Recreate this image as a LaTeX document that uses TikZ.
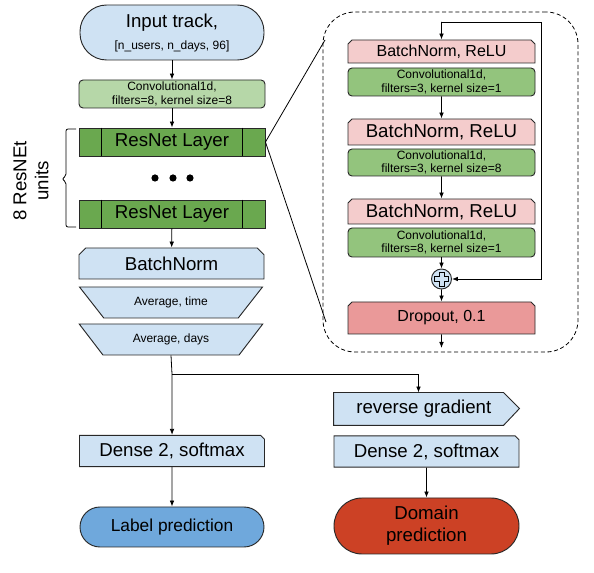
\documentclass[tikz,border=0pt]{standalone}
\usepackage{fontspec}
\setmainfont{Liberation Sans}
\usetikzlibrary{shapes.geometric, shapes.misc, arrows.meta, calc, backgrounds}
\definecolor{colIn}{RGB}{207,226,243}
\definecolor{colConvA}{RGB}{182,215,168}
\definecolor{colConvB}{RGB}{147,196,125}
\definecolor{colRes}{RGB}{106,168,79}
\definecolor{colNorm}{RGB}{244,204,204}
\definecolor{colDrop}{RGB}{234,153,153}
\definecolor{colLabel}{RGB}{111,168,220}
\definecolor{colDomain}{RGB}{204,65,37}
\definecolor{colBorder}{RGB}{40,40,40}
\tikzset{
  box/.style={
    rectangle, draw=colBorder, line width=0.7pt,
    inner sep=0pt, align=center, text=black
  },
  bigTxt/.style={font=\fontsize{14}{16.5}\selectfont},
  midTxt/.style={font=\fontsize{12}{14}\selectfont},
  smallTxt/.style={font=\fontsize{9}{10}\selectfont},
  stadBox/.style={box, bigTxt, minimum width=138pt, rounded corners=#1},
  convBox/.style={box, smallTxt, rounded corners=3pt, fill=colConvB, minimum width=140.25pt},
  resBox/.style={box, bigTxt, fill=colRes, minimum width=139.5pt, minimum height=21pt},
  cutBox/.style={box, chamfered rectangle,
    chamfered rectangle xsep=#1, chamfered rectangle ysep=#1},
  normBox/.style={cutBox=1.5pt, chamfered rectangle corners={north west, north east},
    fill=colNorm, minimum width=140.25pt},
  avgBox/.style={box, smallTxt, trapezium, trapezium stretches=true,
    trapezium left angle=40, trapezium right angle=40, shape border rotate=180,
    fill=colIn, minimum width=138pt, minimum height=23.25pt},
  denseBox/.style={cutBox=1.5pt, chamfered rectangle corners=north east, bigTxt,
    fill=colIn, minimum width=138.75pt, minimum height=23.5pt},
  arr/.style={-{Latex[length=4.5pt, width=3.5pt]}, line width=0.6pt, color=black},
  wire/.style={line width=0.6pt, color=black}
}

\begin{document}
\begin{tikzpicture}[x=0.75pt, y=-0.75pt]
  \useasboundingbox (0,0) rectangle (594,573);

  % main column
  \node[stadBox=20pt, fill=colIn, minimum height=41.25pt] (input) at (172,32.5)
    {Input track,\\{\fontsize{9}{10}\selectfont [n\_users, n\_days, 96]}};
  \node[convBox, fill=colConvA, minimum width=139.5pt, minimum height=21pt] (conv0) at (172,94)
    {Convolutional1d,\\filters=8, kernel size=8};
  \node[resBox] (res1) at (172,142) {ResNet Layer};
  \node[resBox] (res2) at (172,214) {ResNet Layer};
  \foreach \r in {res1, res2} {
    \draw[wire] ($(\r.north west)+(23,0)$) -- ($(\r.south west)+(23,0)$);
    \draw[wire] ($(\r.north east)+(-23,0)$) -- ($(\r.south east)+(-23,0)$);
  }
  \foreach \x in {155,173,190}
    \fill (\x,178) circle (2.7pt);
  \draw[wire, rounded corners=1.5pt] (76,129) -- (66,129) -- (66,176) -- (62,179)
    -- (66,182) -- (66,227) -- (76,227);
  \node[bigTxt, rotate=90, align=center] (units) at (31,181) {8 ResNEt\\units};

  \node[cutBox=2.5pt, chamfered rectangle corners={north west, north east}, bigTxt,
    fill=colIn, minimum width=138.75pt, minimum height=23.25pt] (bnorm) at (171.5,263.5) {BatchNorm};
  \node[avgBox] (avgtime) at (171,302.5) {Average, time};
  \node[avgBox] (avgdays) at (171,339.5) {Average, days};

  % heads
  \node[denseBox] (denseL) at (172,451) {Dense 2, softmax};
  \node[stadBox=15pt, font=\fontsize{13}{15}\selectfont, fill=colLabel, minimum height=30pt] (labelpred) at (172,527)
    {Label prediction};
  \node[box, draw=none, bigTxt, minimum width=126.75pt, minimum height=24pt] (revgrad) at (418.5,409)
    {\hspace*{8pt}reverse gradient};
  \begin{scope}[on background layer]
    \draw[box, fill=colIn] (revgrad.north west) -- (revgrad.north east) -- ++(16,16)
      -- (revgrad.south east) -- (revgrad.south west) -- cycle;
  \end{scope}
  \node[denseBox] (denseR) at (426.5,451.5) {Dense 2, softmax};
  \node[stadBox=21pt, fill=colDomain, minimum width=138.75pt, minimum height=42pt] (domain) at (426.5,526)
    {Domain\\prediction};

  \coordinate (split) at (172,374);
  \draw[wire] (avgdays.south) -- (split);
  \draw[arr] (input) -- (conv0);
  \draw[arr] (conv0) -- (res1);
  \draw[arr] (res2) -- (bnorm);
  \draw[arr] (split) -- (denseL);
  \draw[arr] (split) -| (revgrad);
  \draw[arr] (denseL) -- (labelpred);
  \draw[arr] (denseR) -- (domain);

  % zoomed ResNet unit
  \node[draw, line width=0.6pt, dash pattern=on 3pt off 2pt, rounded corners=24pt,
    minimum width=191.25pt, minimum height=255pt] (panel) at (450.5,182) {};
  \coordinate (zoomtop) at (325,40);
  \coordinate (zoombot) at (326,322);
  \draw[wire] (res1.east) -- (zoomtop);
  \draw[wire] (res1.east) -- (zoombot);

  \node[normBox, midTxt, minimum height=17.25pt] (bnr1) at (441.5,51.5) {BatchNorm, ReLU};
  \node[convBox, minimum height=21pt] (conv1) at (441.5,82) {Convolutional1d,\\filters=3, kernel size=1};
  \node[normBox, bigTxt, minimum height=19.5pt] (bnr2) at (441.5,132) {BatchNorm, ReLU};
  \node[convBox, minimum height=20.25pt] (conv2) at (441.5,162.5) {Convolutional1d,\\filters=3, kernel size=8};
  \node[normBox, bigTxt, minimum height=18.75pt] (bnr3) at (441.5,211.5) {BatchNorm, ReLU};
  \node[convBox, minimum height=21.75pt] (conv3) at (441.5,242.5) {Convolutional1d,\\filters=8, kernel size=1};
  \node[box, circle, fill=colIn, minimum size=15pt] (plus) at (441.5,279) {};
  \draw[line width=0.6pt, fill=colIn] ($(plus.center)+(-2.5,-7)$) -- ++(5,0) -- ++(0,4.5) -- ++(4.5,0)
    -- ++(0,5) -- ++(-4.5,0) -- ++(0,4.5) -- ++(-5,0) -- ++(0,-4.5) -- ++(-4.5,0)
    -- ++(0,-5) -- ++(4.5,0) -- cycle;
  \node[normBox, midTxt, fill=colDrop, minimum height=24pt] (dropout) at (441.5,318) {Dropout, 0.1};

  \coordinate (skipin) at (441.5,22);
  \coordinate (skipr) at (541,279);
  \coordinate (unitout) at (441.5,348);
  \draw[arr] (skipin) -- (bnr1);
  \draw[arr] (skipin) -| (skipr) -- (plus);
  \draw[arr] (conv1) -- (bnr2);
  \draw[arr] (conv2) -- (bnr3);
  \draw[arr] (conv3) -- (plus);
  \draw[arr] (plus) -- (dropout);
  \draw[arr] (dropout) -- (unitout);

\end{tikzpicture}
\end{document}
